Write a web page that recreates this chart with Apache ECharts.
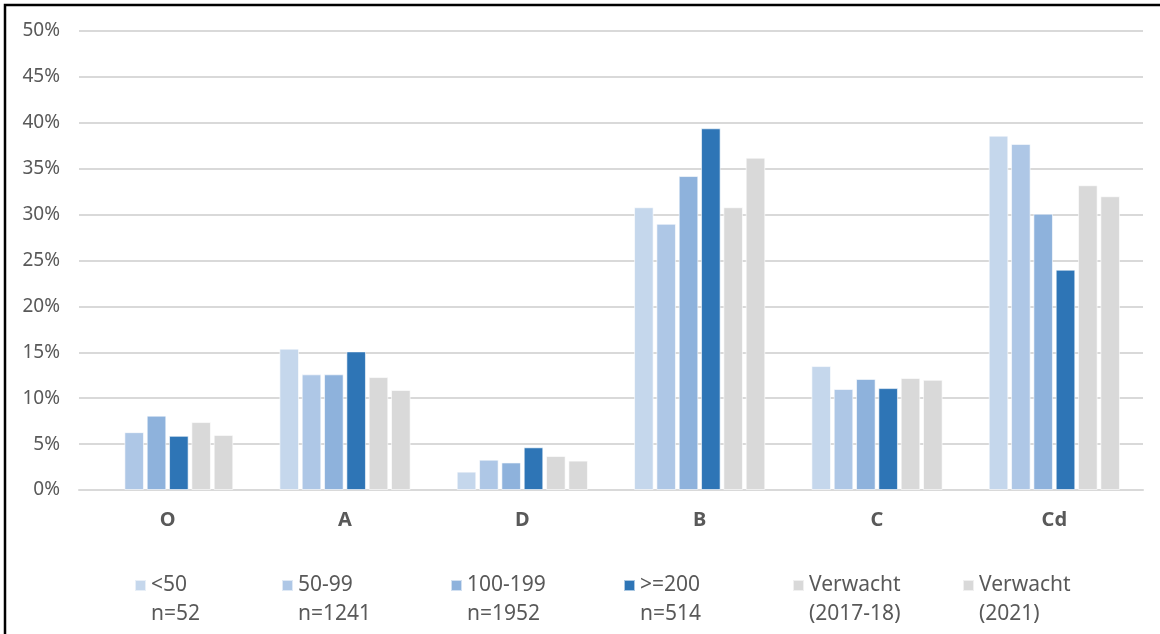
<!DOCTYPE html>
<html>
<head>
<meta charset="utf-8">
<script src="https://cdn.jsdelivr.net/npm/echarts@6/dist/echarts.min.js"></script>
<style>
  html, body { margin: 0; padding: 0; background: #ffffff; }
  #chart { width: 1160px; height: 634px; }
</style>
</head>
<body>
<div id="chart"></div>
<script>
// Categories along the x axis
const categories = ['O', 'A', 'D', 'B', 'C', 'Cd'];

// Series labels (first legend line) and their notes (second legend line)
const seriesNames = ['<50', '50-99', '100-199', '>=200', 'Verwacht', 'Verwacht '];
const seriesNotes = ['n=52', 'n=1241', 'n=1952', 'n=514', '(2017-18)', '(2021)'];

// Shares per category, in percent
const size0to49    = [null, 15.4, 2.0, 30.8, 13.5, 38.6];
const size50to99   = [6.3, 12.6, 3.3, 29.0, 11.0, 37.7];
const size100to199 = [8.1, 12.6, 3.0, 34.2, 12.1, 30.1];
const size200plus  = [5.9, 15.1, 4.65, 39.4, 11.1, 24.0];
const expected1718 = [7.4, 12.3, 3.7, 30.8, 12.2, 33.2];
const expected2021 = [6.0, 10.9, 3.2, 36.2, 12.0, 32.0];

// Y axis ticks
const yMin = 0, yMax = 50, yStep = 5;

const seriesValues = [size0to49, size50to99, size100to199, size200plus, expected1718, expected2021];
const colors = ['#c5d7ec', '#aec7e6', '#8eb2dc', '#2e75b6', '#d9d9d9', '#d9d9d9'];
const legendLeft = [134, 281, 450, 623, 792, 962];

const textColor = '#595959';
const font = '"Noto Sans", "DejaVu Sans", sans-serif';

const chart = echarts.init(document.getElementById('chart'), null, { renderer: 'canvas' });

const series = seriesValues.map((vals, i) => ({
  name: seriesNames[i],
  type: 'bar',
  data: vals,
  barGap: '14%',
  barCategoryGap: '26%',
  itemStyle: { color: colors[i], borderColor: 'rgba(255,255,255,0.6)', borderWidth: 1 },
  emphasis: { disabled: true }
}));

// One legend per series; an empty leading line keeps the swatch beside the first text line
const legends = seriesNames.map((name, i) => ({
  data: [name],
  left: legendLeft[i],
  top: 542,
  icon: 'rect',
  itemWidth: 11,
  itemHeight: 11,
  itemGap: 0,
  padding: 0,
  selectedMode: false,
  formatter: () => ' \n' + name.trim() + '\n' + seriesNotes[i],
  textStyle: {
    color: textColor,
    fontFamily: font,
    fontSize: 21,
    lineHeight: 29
  }
}));

chart.setOption({
  animation: false,
  backgroundColor: '#ffffff',
  color: colors,
  grid: { left: 79, right: 17, top: 31, bottom: 144, containLabel: false },
  legend: legends,
  xAxis: {
    type: 'category',
    data: categories,
    axisLine: { show: true, lineStyle: { color: '#d9d9d9', width: 2 } },
    axisTick: { show: false },
    axisLabel: {
      color: textColor,
      fontFamily: font,
      fontSize: 20,
      fontWeight: 'bold',
      margin: 20
    }
  },
  yAxis: {
    type: 'value',
    min: yMin,
    max: yMax,
    interval: yStep,
    axisLine: { show: false },
    axisTick: { show: false },
    splitLine: { lineStyle: { color: '#d9d9d9', width: 2 } },
    axisLabel: {
      color: textColor,
      fontFamily: font,
      fontSize: 19,
      margin: 19,
      formatter: v => v + '%'
    }
  },
  series: series,
  graphic: [{
    type: 'rect',
    shape: { x: 5, y: 5, width: 1170, height: 650 },
    style: { fill: 'none', stroke: '#000000', lineWidth: 2.5 },
    silent: true,
    z: 100
  }]
});
</script>
</body>
</html>
